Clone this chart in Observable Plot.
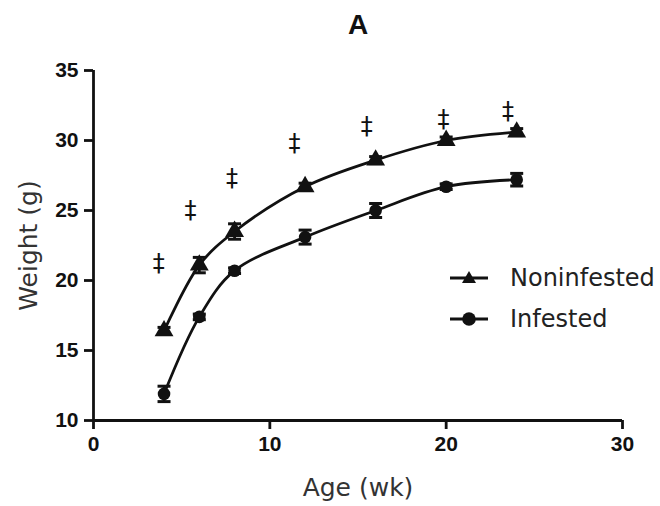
<!DOCTYPE html>
<html>
<head>
<meta charset="utf-8">
<script src="https://cdn.jsdelivr.net/npm/d3@7"></script>
<script src="https://cdn.jsdelivr.net/npm/@observablehq/plot@0.6"></script>
<style>
  html, body { margin: 0; padding: 0; background: #fff; }
  #wrap { position: relative; width: 660px; height: 506px; }
  #legend { position: absolute; left: 448px; top: 257px; font-family: "DejaVu Sans", sans-serif; }
  .item { display: flex; align-items: center; height: 41px; font-size: 24px; color: #222; }
  .item svg { margin-right: 20px; }
</style>
</head>
<body>
<div id="wrap"></div>
<script>
// ---- data ----
const ages = [4, 6, 8, 12, 16, 20, 24];
const noninfested = [16.4, 21.1, 23.5, 26.7, 28.6, 30.0, 30.6];
const noninfestedSem = [0.25, 0.55, 0.55, 0.25, 0.25, 0.25, 0.25];
const infested = [11.9, 17.4, 20.7, 23.1, 25.0, 26.7, 27.2];
const infestedSem = [0.55, 0.2, 0.2, 0.5, 0.5, 0.2, 0.45];
const daggerAge = [3.7, 5.5, 7.85, 11.4, 15.5, 19.85, 23.5];
const daggerWeight = [21.2, 25.0, 27.3, 29.8, 31.0, 31.5, 32.1];
const xTicks = [0, 10, 20, 30];
const yTicks = [10, 15, 20, 25, 30, 35];
const seriesNames = ["Noninfested", "Infested"];

const non = ages.map((a, i) => ({age: a, w: noninfested[i], se: noninfestedSem[i]}));
const inf = ages.map((a, i) => ({age: a, w: infested[i], se: infestedSem[i]}));
const daggers = daggerAge.map((a, i) => ({age: a, w: daggerWeight[i]}));

const cap = { draw(ctx, size) { const w = Math.sqrt(size / Math.PI); ctx.moveTo(-w, 0); ctx.lineTo(w, 0); } };

function errorMarks(data) {
  return [
    Plot.ruleX(data, {x: "age", y1: d => d.w - d.se, y2: d => d.w + d.se, stroke: "#111", strokeWidth: 2.8}),
    Plot.dot(data, {x: "age", y: d => d.w - d.se, symbol: cap, r: 6.5, stroke: "#111", strokeWidth: 3, fill: "none"}),
    Plot.dot(data, {x: "age", y: d => d.w + d.se, symbol: cap, r: 6.5, stroke: "#111", strokeWidth: 3, fill: "none"})
  ];
}

const chart = Plot.plot({
  width: 660,
  height: 506,
  marginLeft: 93,
  marginRight: 38,
  marginTop: 70,
  marginBottom: 86,
  style: {fontFamily: "Liberation Sans, Arial, sans-serif", fontSize: "21px", color: "#111", background: "#fff"},
  x: {domain: [0, 30]},
  y: {domain: [10, 35]},
  marks: [
    Plot.axisY(yTicks, {tickSize: 9, tickPadding: 6, strokeWidth: 2.8, fontWeight: "bold", fontSize: 21, label: null, tickFormat: d => d}),
    Plot.axisX(xTicks, {tickSize: 9, tickPadding: 7, strokeWidth: 2.8, fontWeight: "bold", fontSize: 21, label: null, tickFormat: d => d}),
    Plot.ruleX([0], {strokeWidth: 2.8, stroke: "#111"}),
    Plot.ruleY([10], {strokeWidth: 2.8, stroke: "#111"}),
    Plot.line(non, {x: "age", y: "w", curve: "catmull-rom", stroke: "#111", strokeWidth: 2.8}),
    Plot.line(inf, {x: "age", y: "w", curve: "catmull-rom", stroke: "#111", strokeWidth: 2.8}),
    ...errorMarks(non),
    ...errorMarks(inf),
    Plot.dot(non, {x: "age", y: "w", symbol: "triangle", r: 7, fill: "#111"}),
    Plot.dot(inf, {x: "age", y: "w", symbol: "circle", r: 6.3, fill: "#111"}),
    Plot.text(daggers, {x: "age", y: "w", text: () => "‡", fontSize: 24, fontFamily: "DejaVu Sans", fill: "#111"}),
    Plot.text(["A"], {frameAnchor: "top", dy: -45, lineAnchor: "middle", fontSize: 28, fontWeight: "bold", fill: "#111"}),
    Plot.text(["Age (wk)"], {frameAnchor: "bottom", dy: 67, lineAnchor: "middle", fontSize: 25, fontFamily: "DejaVu Sans", fill: "#333"}),
    Plot.text(["Weight (g)"], {frameAnchor: "left", dx: -65, rotate: -90, textAnchor: "middle", lineAnchor: "middle", fontSize: 25, fontFamily: "DejaVu Sans", fill: "#333"})
  ]
});

const wrap = document.getElementById("wrap");
wrap.appendChild(chart);

// legend
const legend = document.createElement("div");
legend.id = "legend";
const symbols = {
  Noninfested: '<polygon points="21,5 28,17 14,17" fill="#111"/>',
  Infested: '<circle cx="21" cy="12" r="6.8" fill="#111"/>'
};
seriesNames.forEach(name => {
  const item = document.createElement("div");
  item.className = "item";
  item.innerHTML = `<svg width="42" height="24"><line x1="2" x2="40" y1="12" y2="12" stroke="#111" stroke-width="3"/>${symbols[name]}</svg><span>${name}</span>`;
  legend.appendChild(item);
});
wrap.appendChild(legend);
</script>
</body>
</html>
